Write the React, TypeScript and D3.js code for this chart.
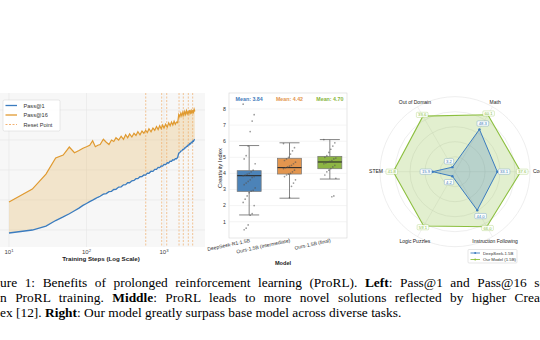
import React from "react";
import * as d3 from "d3";

// ---------- Left panel data ----------
const STEPS = [10,20,30,40,50,60,70,80,90,100,110,120,130,140,150,165,180,195,210,225,240,260,280,300,320,340,360,385,410,435,460,490,520,550,580,610,640,680,720,760,800,840,880,920,960,1000,1050,1100,1150,1200,1250,1300,1350,1400,1450,1500,1550,1600,1650,1700,1750,1800,1850,1900,1950,2000,2050,2100,2150,2200,2250,2300,2350,2400,2450,2500];
const PASS1 = [8,10,12.6,16.3,18.7,20.8,22.8,24.6,26.4,27.7,28.9,29.9,30.9,31.8,32.5,33.9,34.3,35.6,35.8,37,37.1,38.6,38.8,40.1,40.2,41.5,41.5,42.8,43,44.2,44.2,45.5,45.6,46.7,46.6,47.9,47.8,49.2,49.1,50.4,50.4,51.7,51.6,52.7,52.6,53.7,53.6,54.8,54.7,55.9,55.8,56.8,56.6,57.6,57.5,58.4,61.2,61.6,62.6,62.8,63.8,63.8,64.8,64.8,65.8,65.8,66.7,66.6,67.6,67.4,68.4,68.2,69.3,69.1,70.1,70.4];
const PASS16 = [28.7,37.3,47.3,58,60,65.3,61.5,63,64.5,65.5,66.5,69.5,65.5,66.5,67,70.5,68.5,67,70,69,71.5,70,72.5,70.5,73.5,71.5,74,72,74.5,73,75.5,73.5,76,74.5,76.5,75,77.5,75.5,78,76.5,79,77,79.5,77.5,80,78,80.5,78.5,81.5,79.5,82,80,82.5,80.5,82,81.5,87,85.5,88,86,88.5,86.5,89,87,89.5,87.5,89,87.5,90,88,89.5,87.5,90,88.5,90.5,89];
const RESET_STEPS = [581, 934, 1084, 1563, 1775, 2060, 2345];
const X_TICKS = [10, 100, 1000];
const X_TICK_EXP = ["1", "2", "3"];
const Y_GRID = [10, 30, 50, 70, 90];

// ---------- Middle panel data ----------
const MODELS = ["DeepSeek-R1-1.5B", "Ours-1.5B (intermediate)", "Ours-1.5B (final)"];
const MEANS = [3.84, 4.42, 4.70];
const Q1 = [2.88, 3.96, 4.29];
const MEDIAN = [3.86, 4.36, 4.71];
const Q3 = [4.17, 4.94, 5.06];
const WHISK_LO = [1.42, 2.46, 3.65];
const WHISK_HI = [5.73, 5.9, 6.1];
const PTS_DS = [8.3,7.65,7.25,6.6,5.7,5.1,4.9,4.6,4.2,4.1,4.0,3.95,3.9,3.85,3.8,3.75,3.6,3.5,3.4,3.3,3.1,2.95,2.9,2.8,2.6,2.4,2.2,2.0,1.5,1.4,0.8,0.6,0.5];
const PTS_MID = [5.85,5.6,5.4,5.2,5.0,4.9,4.8,4.7,4.6,4.5,4.45,4.4,4.35,4.3,4.2,4.1,4.0,3.95,3.9,3.8,3.6,3.4,3.2,2.5];
const PTS_FIN = [6.1,5.9,5.7,5.5,5.3,5.1,5.0,4.95,4.9,4.8,4.75,4.7,4.65,4.6,4.5,4.4,4.3,4.2,4.1,3.9,3.7,2.6,2.55];
const Y_TICKS_MID = [1,2,3,4,5,6,7,8];

// ---------- Right panel data ----------
const AXES = ["Code", "Math", "Out of Domain", "STEM", "Logic Puzzles", "Instruction Following"];
const DS_SCORE = [56.4, 65.2, 7, 29.7, 7, 59.3];
const OURS_SCORE = [87.6, 87.6, 85.5, 82.3, 83.5, 84.7];
const DS_LABELS = ["33.1", "48.3", "3.2", "15.9", "4.2", "44.0"];
const OURS_LABELS = ["37.6", "60.1", "39.6", "41.8", "59.1", "66.0"];
const RINGS = [20, 40, 60, 80, 100];

const SANS = "Liberation Sans, Arial, sans-serif";
const SERIF = "Liberation Serif, Times New Roman, serif";
const BLUE = "#3b7cbf";
const ORANGE = "#e09a30";
const GREEN = "#8cbf3f";

export default function App() {
  // Left
  const x = d3.scaleLog().domain([10, 1000]).range([9, 164]);
  const y = d3.scaleLinear().domain([0, 100]).range([245, 95]);
  const pts = STEPS.map((s, i) => ({ s, p1: PASS1[i], p16: PASS16[i] }));
  const area = d3.area<any>().x((d) => x(d.s)).y0((d) => y(d.p1)).y1((d) => y(d.p16));
  const l1 = d3.line<any>().x((d) => x(d.s)).y((d) => y(d.p1));
  const l16 = d3.line<any>().x((d) => x(d.s)).y((d) => y(d.p16));

  // Middle
  const xm = d3.scalePoint<string>().domain(MODELS).range([229, 350]).padding(0.5);
  const ym = d3.scaleLinear().domain([1, 8]).range([221.7, 109]);
  const boxColors = ["#4c83b8", "#e3964f", "#8db544"];
  const meanColors = ["#3f7bbb", "#e3964f", "#88b53c"];
  const groups = [PTS_DS, PTS_MID, PTS_FIN];
  const bw = 24;

  // Right
  const cx = 455, cy = 171.7;
  const r = d3.scaleLinear().domain([0, 100]).range([0, 75]);
  const ang = (i: number) => (i * Math.PI) / 3;
  const pos = (i: number, v: number) => [cx + r(v) * Math.cos(ang(i)), cy - r(v) * Math.sin(ang(i))];
  const closed = d3.line<number[]>().curve(d3.curveLinearClosed);
  const dsPts = DS_SCORE.map((v, i) => pos(i, v));
  const oursPts = OURS_SCORE.map((v, i) => pos(i, v));

  const valueLabel = (txt: string, px: number, py: number, color: string, key: string) => {
    const w = txt.length * 2.4 + 2;
    return (
      <g key={key}>
        <rect x={px - w / 2} y={py - 2.6} width={w} height={5.2} rx={1} fill="#fff" fillOpacity={0.9} stroke={color} strokeWidth={0.3} />
        <text x={px} y={py + 1.5} fontSize={4.2} textAnchor="middle" fill={color} fontFamily={SANS}>{txt}</text>
      </g>
    );
  };

  return (
    <svg width={540} height={340} style={{ position: "absolute", left: 0, top: 0, background: "#fff" }} fontFamily={SANS}>
      <rect width={540} height={340} fill="#fff" />
      {/* ---------- Left panel ---------- */}
      <rect x={-2} y={93} width={207} height={154} fill="#f7f7f7" />
      {Y_GRID.map((v) => (
        <line key={"yg" + v} x1={-2} x2={205} y1={y(v)} y2={y(v)} stroke="#e6e6e6" strokeWidth={0.6} />
      ))}
      {X_TICKS.map((t) => (
        <line key={"xg" + t} x1={x(t)} x2={x(t)} y1={93} y2={247} stroke="#e6e6e6" strokeWidth={0.6} />
      ))}
      <path d={area(pts) || ""} fill="#e8b866" fillOpacity={0.3} />
      {RESET_STEPS.map((s) => (
        <line key={"rs" + s} x1={x(s)} x2={x(s)} y1={93} y2={247} stroke="#f0a860" strokeWidth={0.8} strokeDasharray="2,1.5" opacity={0.8} />
      ))}
      <path d={l16(pts) || ""} fill="none" stroke={ORANGE} strokeWidth={1.2} />
      <path d={l1(pts) || ""} fill="none" stroke={BLUE} strokeWidth={1.3} />
      {X_TICKS.map((t, i) => (
        <text key={"xt" + t} x={x(t)} y={254} fontSize={6} fill="#444" textAnchor="middle">
          10<tspan fontSize={4.2} dy={-2.5}>{X_TICK_EXP[i]}</tspan>
        </text>
      ))}
      <text x={101} y={260.5} fontSize={6.2} fontWeight="bold" textAnchor="middle" fill="#222">Training Steps (Log Scale)</text>
      {/* legend */}
      <rect x={3} y={100} width={57} height={31} rx={1.5} fill="#fff" fillOpacity={0.9} stroke="#d0d0d0" strokeWidth={0.5} />
      <line x1={5.5} x2={17} y1={105.5} y2={105.5} stroke={BLUE} strokeWidth={1.3} />
      <text x={23.5} y={107.5} fontSize={5.6} fill="#333">Pass@1</text>
      <line x1={5.5} x2={17} y1={115} y2={115} stroke={ORANGE} strokeWidth={1.3} />
      <text x={23.5} y={117} fontSize={5.6} fill="#333">Pass@16</text>
      <line x1={5.5} x2={17} y1={124.5} y2={124.5} stroke="#f0a860" strokeWidth={0.9} strokeDasharray="2,1.5" />
      <text x={23.5} y={126.5} fontSize={5.6} fill="#333">Reset Point</text>

      {/* ---------- Middle panel ---------- */}
      <rect x={229} y={93} width={118} height={145} fill="#fff" stroke="#d5d5d5" strokeWidth={0.6} />
      {Y_TICKS_MID.map((t) => (
        <g key={"ym" + t}>
          <line x1={229} x2={347} y1={ym(t)} y2={ym(t)} stroke="#ececec" strokeWidth={0.6} />
          <text x={226} y={ym(t) + 1.8} fontSize={5.2} textAnchor="end" fill="#333">{t}</text>
        </g>
      ))}
      {MODELS.map((m, i) => {
        const c = xm(m) as number;
        return (
          <g key={"box" + i}>
            <line x1={c} x2={c} y1={ym(WHISK_HI[i])} y2={ym(Q3[i])} stroke="#777" strokeWidth={0.9} />
            <line x1={c} x2={c} y1={ym(Q1[i])} y2={ym(WHISK_LO[i])} stroke="#777" strokeWidth={0.9} />
            <line x1={c - 10} x2={c + 10} y1={ym(WHISK_HI[i])} y2={ym(WHISK_HI[i])} stroke="#777" strokeWidth={0.9} />
            <line x1={c - 10} x2={c + 10} y1={ym(WHISK_LO[i])} y2={ym(WHISK_LO[i])} stroke="#777" strokeWidth={0.9} />
            <rect x={c - bw / 2} y={ym(Q3[i])} width={bw} height={ym(Q1[i]) - ym(Q3[i])} fill={boxColors[i]} stroke="#777" strokeWidth={0.7} />
            <line x1={c - bw / 2} x2={c + bw / 2} y1={ym(MEDIAN[i])} y2={ym(MEDIAN[i])} stroke="#2b2b2b" strokeWidth={1.1} />
            {groups[i].map((v, j) => {
              const jit = (((j * 37) % 13) - 6) / 6 * 6;
              return <circle key={"p" + j} cx={c + jit} cy={ym(v)} r={0.85} fill="#555" fillOpacity={0.6} />;
            })}
            <text x={c} y={101} fontSize={5.3} fontWeight="bold" textAnchor="middle" fill={meanColors[i]}>
              {"Mean: " + MEANS[i].toFixed(2)}
            </text>
            <text x={c + 1} y={242} fontSize={5} textAnchor="end" fill="#333" transform={`rotate(-12, ${c + 1}, 242)`}>{m}</text>
          </g>
        );
      })}
      <text x={283} y={264.5} fontSize={5.6} fontWeight="bold" textAnchor="middle" fill="#222">Model</text>
      <text x={222} y={168} fontSize={5.8} textAnchor="middle" fill="#222" transform="rotate(-90, 222, 168)">Creativity Index</text>

      {/* ---------- Right panel ---------- */}
      {RINGS.map((v) => (
        <circle key={"ring" + v} cx={cx} cy={cy} r={r(v)} fill="none" stroke="#e2e2e2" strokeWidth={0.6} />
      ))}
      {AXES.map((a, i) => {
        const [px, py] = pos(i, 100);
        return <line key={"ax" + i} x1={cx} y1={cy} x2={px} y2={py} stroke="#e2e2e2" strokeWidth={0.5} />;
      })}
      <path d={closed(oursPts as any) || ""} fill={GREEN} fillOpacity={0.25} stroke={GREEN} strokeWidth={1.1} />
      <path d={closed(dsPts as any) || ""} fill={BLUE} fillOpacity={0.25} stroke={BLUE} strokeWidth={1} />
      {oursPts.map((p, i) => (
        <circle key={"om" + i} cx={p[0]} cy={p[1]} r={1.2} fill={GREEN} />
      ))}
      {dsPts.map((p, i) => (
        <circle key={"dm" + i} cx={p[0]} cy={p[1]} r={1.2} fill={BLUE} />
      ))}
      {AXES.map((a, i) => {
        if (i === 0) return <text key={"al" + i} x={cx + 78} y={cy + 1.7} fontSize={5} fill="#222">{a}</text>;
        if (i === 3) return <text key={"al" + i} x={cx - 72} y={cy + 1.7} fontSize={5} fill="#222" textAnchor="end">{a}</text>;
        const [px, py] = pos(i, 107);
        return <text key={"al" + i} x={px} y={py + 1.7} fontSize={5} fill="#222" textAnchor="middle">{a}</text>;
      })}
      {OURS_SCORE.map((v, i) => {
        const [px, py] = pos(i, v + 2);
        return valueLabel(OURS_LABELS[i], px, py, GREEN, "ol" + i);
      })}
      {DS_SCORE.map((v, i) => {
        const [px, py] = pos(i, v + 9);
        return valueLabel(DS_LABELS[i], px, py, BLUE, "dl" + i);
      })}
      {/* radar legend */}
      <rect x={468} y={249.5} width={49} height={13.5} rx={1} fill="#fff" stroke="#ccc" strokeWidth={0.5} />
      <line x1={470.5} x2={480} y1={253} y2={253} stroke={BLUE} strokeWidth={0.9} />
      <circle cx={475.2} cy={253} r={1} fill={BLUE} />
      <text x={483} y={254.5} fontSize={4.3} fill="#333">DeepSeek-1.5B</text>
      <line x1={470.5} x2={480} y1={259.5} y2={259.5} stroke={GREEN} strokeWidth={0.9} />
      <circle cx={475.2} cy={259.5} r={1} fill={GREEN} />
      <text x={483} y={261} fontSize={4.3} fill="#333">Our Model (1.5B)</text>

      {/* ---------- Caption ---------- */}
      <g fontFamily={SERIF} fontSize={13.4} fill="#000">
        <text x={-17.85} y={286.5} wordSpacing={4.2}>
          Figure 1: Benefits of prolonged reinforcement learning (ProRL). <tspan fontWeight="bold">Left</tspan>: Pass@1 and Pass@16 scores over training
        </text>
        <text x={-3.7} y={302} wordSpacing={5.1}>
          in ProRL training. <tspan fontWeight="bold">Middle</tspan>: ProRL leads to more novel solutions reflected by higher Creativity
        </text>
        <text x={-17.85} y={317}>
          Index [12]. <tspan fontWeight="bold">Right</tspan>: Our model greatly surpass base model across diverse tasks.
        </text>
      </g>
    </svg>
  );
}
